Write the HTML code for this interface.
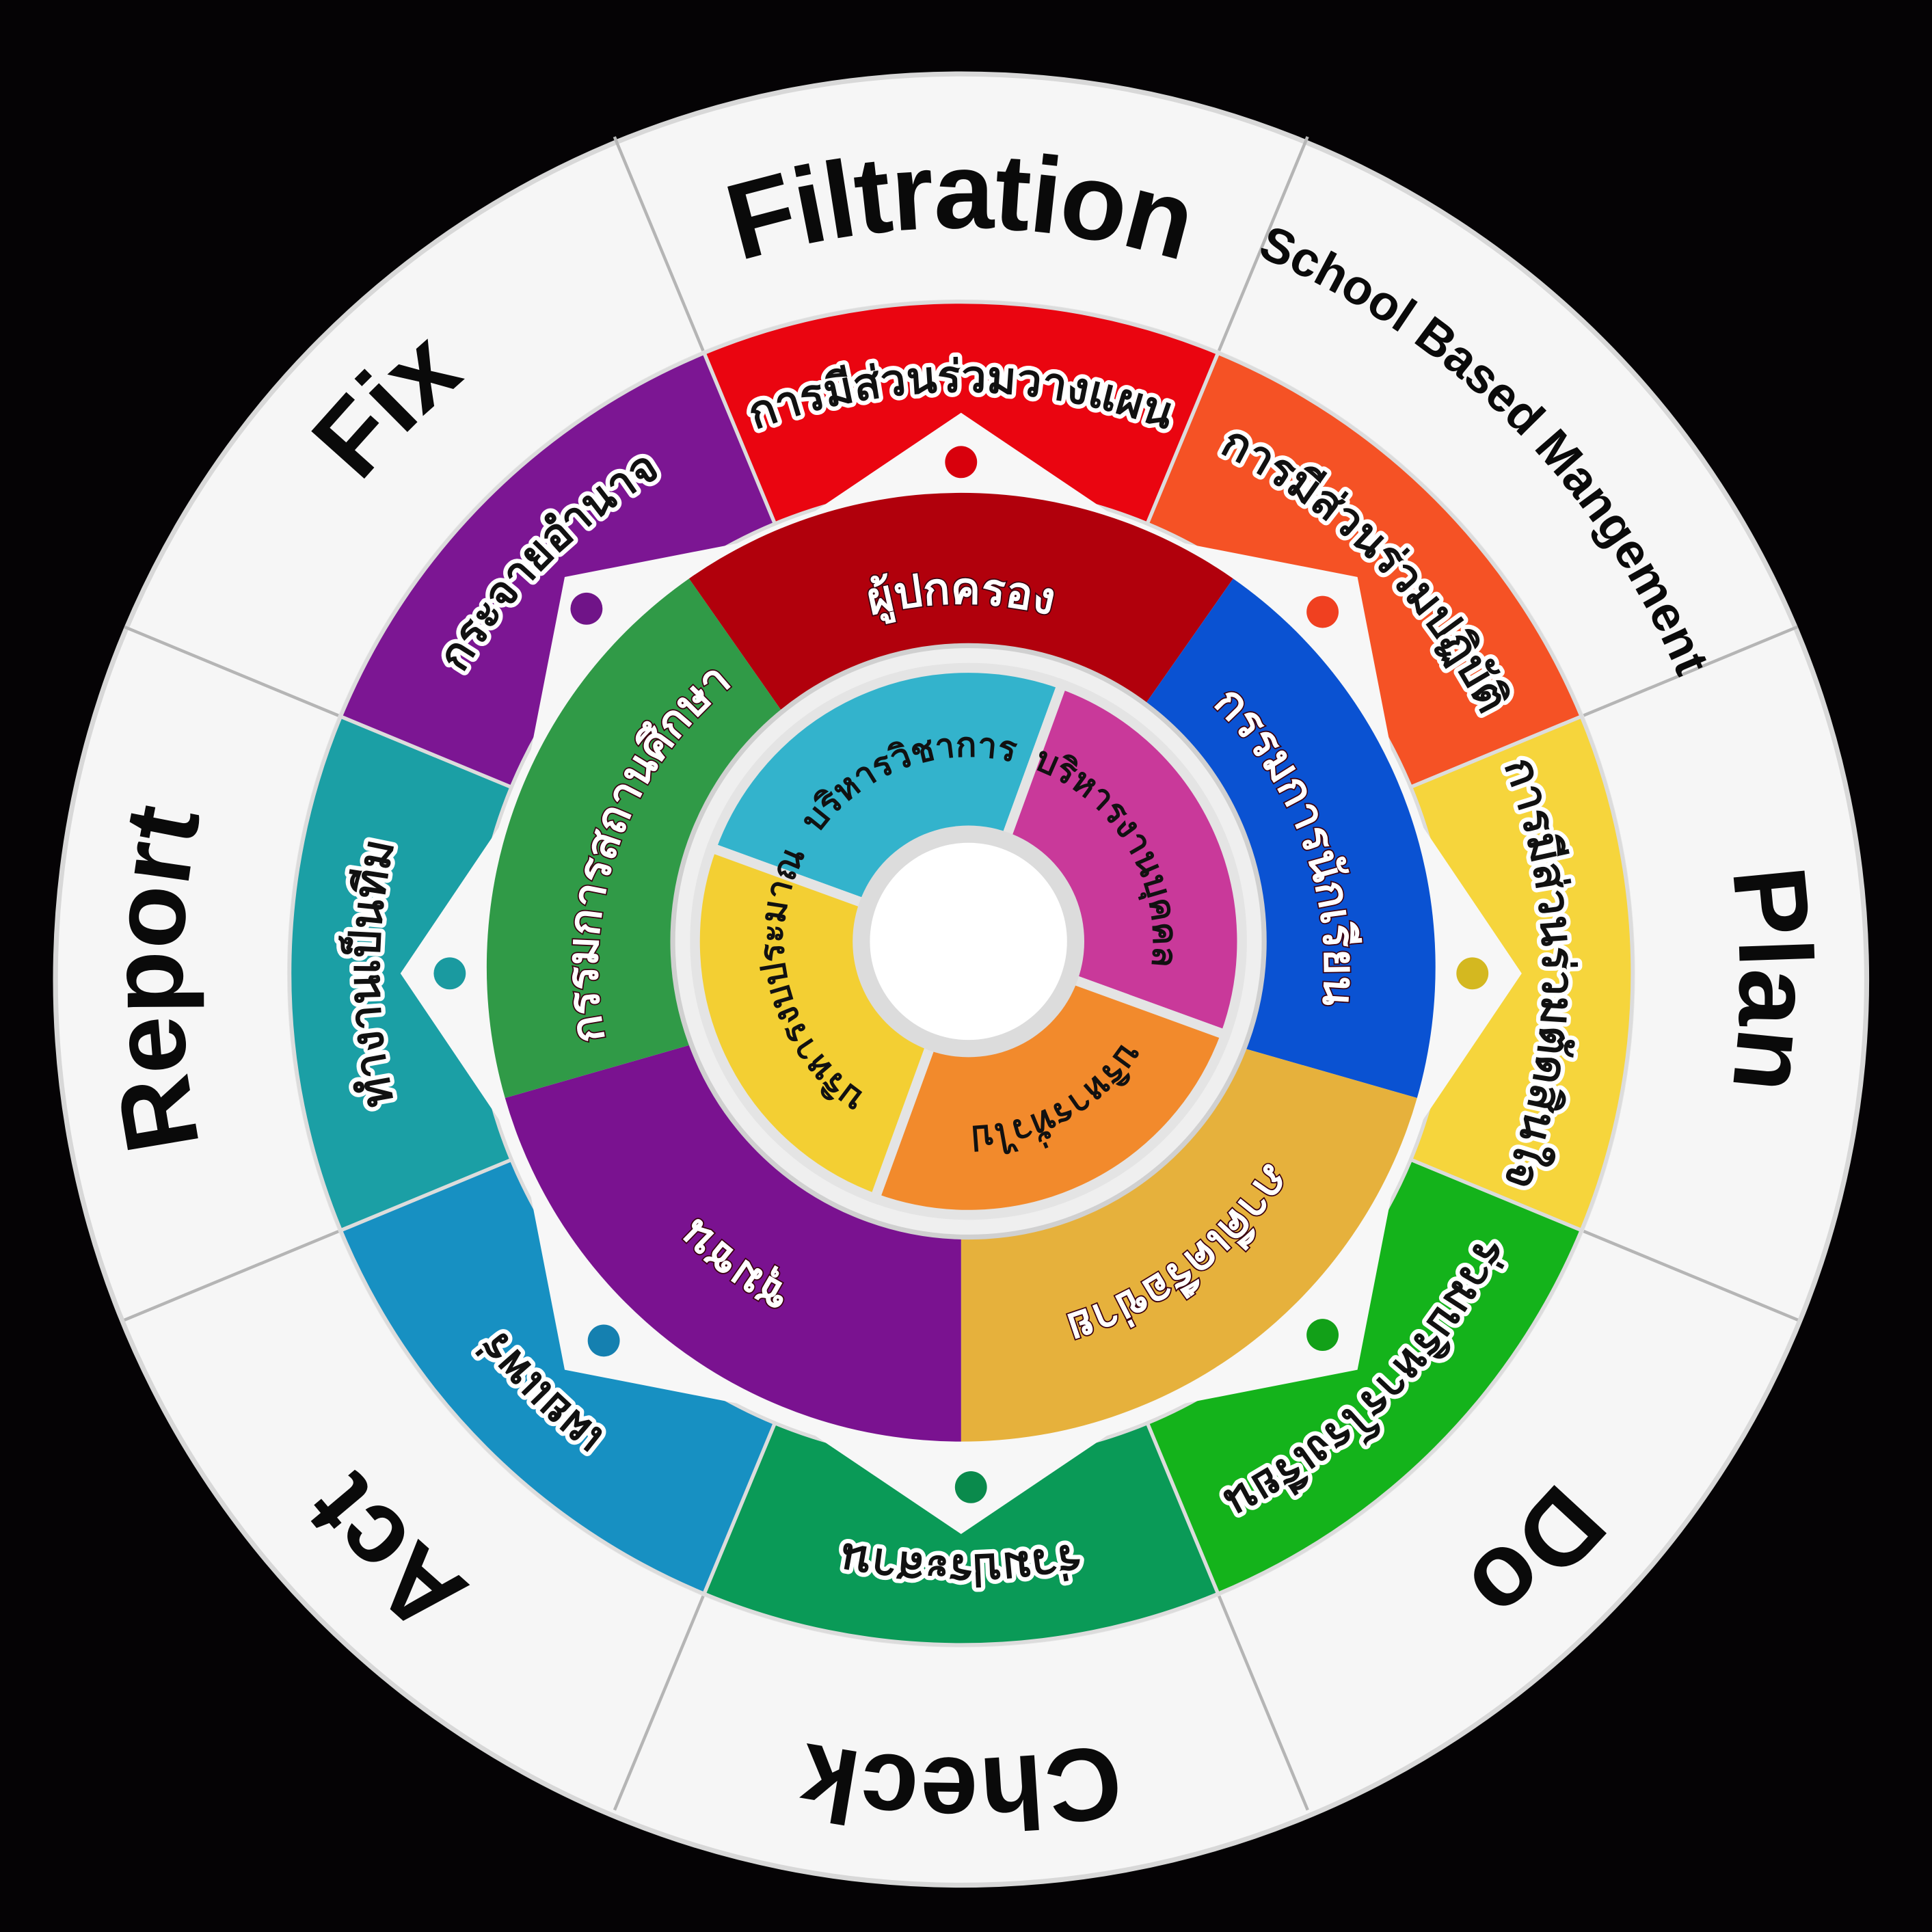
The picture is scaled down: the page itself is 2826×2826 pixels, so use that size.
<!DOCTYPE html>
<html><head><meta charset="utf-8"><style>
html,body{margin:0;padding:0;background:#050305;}
svg{display:block}
text{font-family:"Liberation Sans","Noto Sans CJK SC",sans-serif;font-weight:bold;}
.th{font-family:"Liberation Sans","Noto Sans CJK SC","WenQuanYi Zen Hei",sans-serif;}
</style></head><body>
<svg width="2826" height="2826" viewBox="0 0 1568 1568" xmlns="http://www.w3.org/2000/svg">
<defs>
<path id="oT" d="M780,163 A632,632 0 1 1 780,1427 A632,632 0 1 1 780,163"/>
<path id="oB" d="M780,1427 A632,632 0 1 1 780,163 A632,632 0 1 1 780,1427"/>
<path id="sB" d="M780,1420 A630,630 0 1 1 780,160 A630,630 0 1 1 780,1420"/>
<path id="rT" d="M780,318 A472,472 0 1 1 780,1262 A472,472 0 1 1 780,318"/>
<path id="rB" d="M780,1262 A472,472 0 1 1 780,318 A472,472 0 1 1 780,1262"/>
<path id="iT" d="M780,490 A295,295 0 1 1 780,1080 A295,295 0 1 1 780,490"/>
<path id="iB" d="M780,1080 A295,295 0 1 1 780,490 A295,295 0 1 1 780,1080"/>
<path id="wT" d="M786,614 A150,150 0 1 1 786,914 A150,150 0 1 1 786,614"/>
<path id="wB" d="M786,914 A150,150 0 1 1 786,614 A150,150 0 1 1 786,914"/>
<path id="seg" d="M571.4,286.5 A545,545 0 0 1 988.6,286.5 L931.2,425.1 A395,395 0 0 0 628.8,425.1 Z"/>
</defs>
<rect width="1568" height="1568" fill="#050305"/>
<circle cx="780" cy="795" r="735" fill="#f6f6f6" stroke="#d8d8d8" stroke-width="4"/>
<g stroke="#b5b5b5" stroke-width="2.5">
<g id="dl"><line x1="571.4" y1="286.5" x2="498.7" y2="111"/></g>
<use href="#dl" transform="rotate(45 780 790)"/><use href="#dl" transform="rotate(90 780 790)"/>
<use href="#dl" transform="rotate(135 780 790)"/><use href="#dl" transform="rotate(180 780 790)"/>
<use href="#dl" transform="rotate(225 780 790)"/><use href="#dl" transform="rotate(270 780 790)"/>
<use href="#dl" transform="rotate(315 780 790)"/>
</g>
<circle cx="780" cy="790" r="547" fill="#e6e6e6"/>
<circle cx="780" cy="790" r="400" fill="#f7f7f7"/>
<g stroke="#dcdcdc" stroke-width="3">
<use href="#seg" fill="#ea0510"/>
<use href="#seg" fill="#f55225" transform="rotate(45 780 790)"/>
<use href="#seg" fill="#f6d53c" transform="rotate(90 780 790)"/>
<use href="#seg" fill="#14b31b" transform="rotate(135 780 790)"/>
<use href="#seg" fill="#0a9a57" transform="rotate(180 780 790)"/>
<use href="#seg" fill="#1790c2" transform="rotate(225 780 790)"/>
<use href="#seg" fill="#1b9fa5" transform="rotate(270 780 790)"/>
<use href="#seg" fill="#7c1693" transform="rotate(315 780 790)"/>
</g>
<polygon fill="#f7f7f7" points="780,335 927.3,434.3 1101.7,468.3 1135.7,642.7 1235,790 1135.7,937.3 1101.7,1111.7 927.3,1145.7 780,1245 632.7,1145.7 458.3,1111.7 424.3,937.3 325,790 424.3,642.7 458.3,468.3 632.7,434.3"/>
<circle cx="780" cy="375" r="13" fill="#d8000c"/>
<circle cx="1073.4" cy="496.6" r="13" fill="#f04020"/>
<circle cx="1195" cy="790" r="13" fill="#d4b820"/>
<circle cx="1073.4" cy="1083.4" r="13" fill="#12a018"/>
<circle cx="788" cy="1207" r="13" fill="#0a8a4c"/>
<circle cx="490" cy="1088" r="13" fill="#1580b0"/>
<circle cx="365" cy="790" r="13" fill="#1a9aa0"/>
<circle cx="476" cy="494" r="13" fill="#701488"/>
<path d="M780,785 L559.2,469.6 A385,385 0 0 1 1000.8,469.6 Z" fill="#b1000c"/>
<path d="M780,785 L1000.8,469.6 A385,385 0 0 1 1150.1,891.1 Z" fill="#0a52d2"/>
<path d="M780,785 L1150.1,891.1 A385,385 0 0 1 780,1170 Z" fill="#e6b13c"/>
<path d="M780,785 L780,1170 A385,385 0 0 1 409.9,891.1 Z" fill="#7a1290"/>
<path d="M780,785 L409.9,891.1 A385,385 0 0 1 559.2,469.6 Z" fill="#309a47"/>
<circle cx="786" cy="764" r="240" fill="#efefef" stroke="#d0d0d0" stroke-width="4"/>
<g stroke="#e4e4e4" stroke-width="8">
<path d="M786,764 L577.4,688.1 A222,222 0 0 1 861.9,555.4 Z" fill="#33b3cc"/>
<path d="M786,764 L861.9,555.4 A222,222 0 0 1 994.6,839.9 Z" fill="#c9399a"/>
<path d="M786,764 L994.6,839.9 A222,222 0 0 1 710.1,972.6 Z" fill="#f28a2c"/>
<path d="M786,764 L710.1,972.6 A222,222 0 0 1 577.4,688.1 Z" fill="#f3cf33"/>
</g>
<circle cx="786" cy="764" r="94" fill="#dcdcdc"/>
<circle cx="786" cy="764" r="80" fill="#ffffff"/>
<g fill="#0a0a0a" font-size="84" text-anchor="middle">
<text font-size="88" dy="22"><textPath href="#oB" startOffset="50%">Filtration</textPath></text>
<text><textPath href="#oB" startOffset="75%">Plan</textPath></text>
<text><textPath href="#oB" startOffset="87.5%">Do</textPath></text>
<text><textPath href="#oT" startOffset="50%">Check</textPath></text>
<text><textPath href="#oT" startOffset="62.5%">Act</textPath></text>
<text><textPath href="#oT" startOffset="75%">Report</textPath></text>
<text><textPath href="#oT" startOffset="87.5%">Fix</textPath></text>
<text font-size="40"><textPath href="#sB" startOffset="62.5%">School Based Mangement</textPath></text>
</g>
<g class="th" fill="#111" stroke="#fff" stroke-width="7" paint-order="stroke" stroke-linejoin="round" font-size="36" text-anchor="middle">
<text class="th"><textPath href="#rB" startOffset="50%">การมีส่วนร่วมวางแผน</textPath></text>
<text class="th"><textPath href="#rB" startOffset="62.5%">การมีส่วนร่วมปฏิบัติ</textPath></text>
<text class="th"><textPath href="#rB" startOffset="75%">การมีส่วนร่วมตัดสินใจ</textPath></text>
<text class="th"><textPath href="#rB" startOffset="87.5%">ร่วมบริหารโรงเรียน</textPath></text>
<text class="th"><textPath href="#rT" startOffset="50%">ร่วมประสาน</textPath></text>
<text class="th"><textPath href="#rT" startOffset="62.5%">เผยแพร่</textPath></text>
<text class="th"><textPath href="#rT" startOffset="75%">ทำงานเป็นทีม</textPath></text>
<text class="th"><textPath href="#rT" startOffset="87.5%">กระจายอำนาจ</textPath></text>
</g>
<g fill="#fff" stroke="#3a0010" stroke-width="2" paint-order="stroke" font-size="36" text-anchor="middle">
<text class="th"><textPath href="#iB" startOffset="50%">ผู้ปกครอง</textPath></text>
<text class="th"><textPath href="#iB" startOffset="69.4%">กรรมการนักเรียน</textPath></text>
<text class="th"><textPath href="#iB" startOffset="89.7%">ภาคีเครือข่าย</textPath></text>
<text class="th"><textPath href="#iT" startOffset="60.3%">ชุมชน</textPath></text>
<text class="th"><textPath href="#iT" startOffset="80.5%">กรรมการสถานศึกษา</textPath></text>
</g>
<g fill="#111" font-size="28" text-anchor="middle">
<text class="th"><textPath href="#wB" startOffset="44.4%">บริหารวิชาการ</textPath></text>
<text class="th"><textPath href="#wB" startOffset="66.4%">บริหารงานบุคคล</textPath></text>
<text class="th"><textPath href="#wB" startOffset="91.9%">บริหารทั่วไป</textPath></text>
<text class="th"><textPath href="#wT" startOffset="71.1%">บริหารงบประมาณ</textPath></text>
</g>
</svg>
</body></html>
